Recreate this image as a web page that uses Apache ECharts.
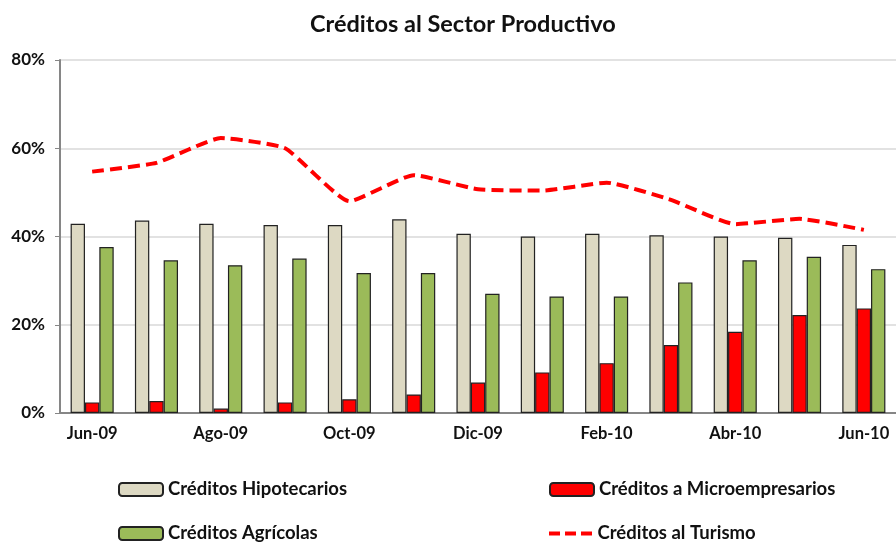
<!DOCTYPE html>
<html><head><meta charset="utf-8">
<script src="https://cdn.jsdelivr.net/npm/echarts@6/dist/echarts.min.js"></script>
<style>html,body{margin:0;padding:0;background:#fff}#c{width:896px;height:542px}</style>
</head><body><div id="c"></div>
<script>
var categories = ['Jun-09','Jul-09','Ago-09','Sep-09','Oct-09','Nov-09','Dic-09','Ene-10','Feb-10','Mar-10','Abr-10','May-10','Jun-10'];
var hipotecarios = [42.9,43.6,42.9,42.6,42.6,43.9,40.6,40.0,40.6,40.3,40.0,39.7,38.1];
var microempresarios = [2.4,2.7,1.0,2.4,3.1,4.2,6.9,9.2,11.3,15.4,18.4,22.2,23.7];
var agricolas = [37.6,34.6,33.5,35.0,31.7,31.7,27.0,26.4,26.4,29.6,34.6,35.4,32.6];
var turismo = [54.7,56.7,62.3,60.0,48.0,53.9,50.7,50.4,52.2,48.3,42.8,44.0,41.5];
var yTicks = [0,20,40,60,80];

var font = 'Lato, "Open Sans", sans-serif';
var chart = echarts.init(document.getElementById('c'));
var legText = {fontFamily: font, fontWeight: 'bold', fontSize: 18.5, color: '#111'};
function leg(name, left, top, icon, h) {
  var d = icon ? {name:name, icon:icon} : name;
  return {data:[d], left:left, top:top, itemWidth:44, itemHeight:h || 13, itemGap:8, textStyle:legText, selectedMode:false, padding:0};
}
chart.setOption({
  animation:false,
  title:{text:'Créditos al Sector Productivo', left:305, top:7,
    textStyle:{fontFamily:font, fontWeight:'bold', fontSize:23.5, color:'#111'}},
  legend:[
    leg('Créditos Hipotecarios',118,480),
    leg('Créditos a Microempresarios',549,480),
    leg('Créditos Agrícolas',118,524),
    leg('Créditos al Turismo',549,524,'path://M0,0h11v4h-11zM16,0h11v4h-11zM32,0h11v4h-11z',4)
  ],
  grid:{left:60, right:-2, top:60, bottom:129},
  xAxis:{type:'category', data:categories, boundaryGap:true,
    axisLine:{lineStyle:{color:'#868686', width:2}},
    axisTick:{interval:1, length:5, lineStyle:{color:'#868686'}},
    axisLabel:{interval:1, margin:12, fontFamily:font, fontWeight:'bold', fontSize:16.5, color:'#111'}},
  yAxis:{type:'value', min:yTicks[0], max:yTicks[yTicks.length-1], interval:20,
    axisLine:{show:true, lineStyle:{color:'#868686', width:2}},
    axisTick:{show:true, length:5, lineStyle:{color:'#868686'}},
    splitLine:{lineStyle:{color:'#d9d9d9', width:1.5}},
    axisLabel:{formatter:'{value}%', margin:15, fontFamily:font, fontWeight:'bold', fontSize:17, color:'#111'}},
  series:[
    {name:'Créditos Hipotecarios', type:'bar', data:hipotecarios, barGap:'0%', barCategoryGap:'33%',
      itemStyle:{color:'#ddd9c3', borderColor:'#222', borderWidth:1.2}},
    {name:'Créditos a Microempresarios', type:'bar', data:microempresarios,
      itemStyle:{color:'#ff0000', borderColor:'#222', borderWidth:1.2}},
    {name:'Créditos Agrícolas', type:'bar', data:agricolas,
      itemStyle:{color:'#9bbb59', borderColor:'#222', borderWidth:1.2}},
    {name:'Créditos al Turismo', type:'line', data:turismo, smooth:0.15, symbol:'none',
      lineStyle:{color:'#ff0000', width:4, type:[12,6]}, itemStyle:{color:'#ff0000'}}
  ]
});
</script></body></html>
